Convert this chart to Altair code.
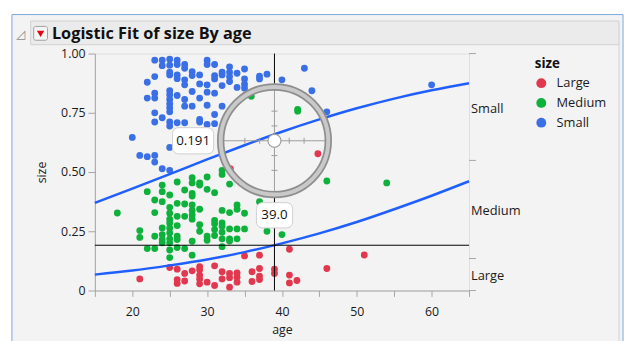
import altair as alt
import pandas as pd

# ---------------- data ----------------
size_levels = ["Large", "Medium", "Small"]
size_colors = ["#e2384f", "#0db13b", "#3a6fe6"]

large_age = [21, 25, 26, 26, 26, 27, 27, 28, 29, 29, 29, 29, 29, 30, 31, 31,
             32, 32, 33, 33, 33, 34, 34, 34, 35, 36, 36, 37, 37, 37, 37, 39,
             39, 41, 41, 41, 42, 46, 51, 44.8, 33.1]
large_val = [0.049, 0.097, 0.090, 0.046, 0.030, 0.072, 0.040, 0.083, 0.101,
             0.088, 0.065, 0.049, 0.028, 0.035, 0.104, 0.021, 0.079, 0.049,
             0.072, 0.054, 0.014, 0.074, 0.056, 0.035, 0.146, 0.079, 0.038,
             0.149, 0.093, 0.060, 0.046, 0.090, 0.072, 0.174, 0.065, 0.032,
             0.042, 0.093, 0.150, 0.577, 0.514]

medium_age = [18, 21, 21, 22, 22, 23, 23, 23, 23,
              24, 24, 24, 24, 24, 24, 24,
              25, 25, 25, 25, 25, 25, 25, 25, 25, 25, 25,
              26, 26, 26, 26, 26, 26, 26,
              27, 27, 27, 27,
              28, 28, 28, 28, 28, 28, 28, 28, 28, 28,
              29, 29, 29, 29, 29,
              30, 30, 30, 30,
              31, 31, 31, 31, 31,
              32, 32, 32, 32, 32, 32, 32, 32,
              33, 33, 33, 33, 33,
              34, 34, 34, 34,
              35, 35, 37, 38, 40, 46, 54, 35.9, 42.1, 42.1]
medium_val = [0.327, 0.253, 0.224, 0.417, 0.177, 0.382, 0.329, 0.229, 0.177,
              0.445, 0.417, 0.375, 0.264, 0.236, 0.215, 0.201,
              0.403, 0.351, 0.326, 0.301, 0.285, 0.264, 0.243, 0.218, 0.201, 0.171, 0.139,
              0.458, 0.368, 0.313, 0.274, 0.229, 0.215, 0.181,
              0.424, 0.365, 0.313, 0.177,
              0.476, 0.454, 0.410, 0.399, 0.361, 0.338, 0.319, 0.301, 0.208, 0.149,
              0.454, 0.445, 0.343, 0.278, 0.250,
              0.479, 0.427, 0.229, 0.212,
              0.413, 0.296, 0.282, 0.257, 0.232,
              0.507, 0.490, 0.338, 0.285, 0.271, 0.246, 0.218, 0.185,
              0.449, 0.329, 0.260, 0.218, 0.209,
              0.361, 0.343, 0.260, 0.218,
              0.326, 0.260, 0.375, 0.250, 0.236, 0.462, 0.454, 0.820, 0.764, 0.757]

small_age = [20, 21, 22, 22, 22,
             23, 23, 23, 23, 23, 23, 23, 23,
             24, 24, 24, 24,
             25, 25, 25, 25, 25, 25, 25, 25, 25, 25, 25, 25, 25, 25,
             26, 26, 26, 26, 26, 26,
             27, 27, 27, 27, 27, 27, 27,
             28, 28, 28, 28,
             29, 29, 29, 29, 29,
             30, 30, 30, 30, 30, 30,
             31, 31, 31, 31, 31, 31,
             32, 32, 32, 32,
             33, 33, 33, 33,
             34, 34, 35, 35, 35, 35, 37, 37, 38, 40, 43, 44, 46, 60]
small_val = [0.646, 0.570, 0.879, 0.812, 0.565,
             0.972, 0.903, 0.833, 0.812, 0.750, 0.711, 0.570, 0.542,
             0.972, 0.949, 0.729, 0.514,
             0.976, 0.951, 0.921, 0.910, 0.843, 0.826, 0.806, 0.788, 0.771, 0.754, 0.711, 0.694, 0.604, 0.507,
             0.972, 0.954, 0.910, 0.894, 0.823, 0.708,
             0.954, 0.938, 0.889, 0.868, 0.806, 0.778, 0.708,
             0.924, 0.907, 0.840, 0.778,
             0.910, 0.872, 0.812, 0.722, 0.711,
             0.972, 0.954, 0.868, 0.837, 0.782, 0.701,
             0.954, 0.907, 0.893, 0.833, 0.743, 0.704,
             0.921, 0.910, 0.865, 0.778,
             0.944, 0.921, 0.903, 0.882,
             0.917, 0.857, 0.935, 0.893, 0.871, 0.854, 0.905, 0.893, 0.913, 0.889, 0.938, 0.843, 0.754, 0.868]

# fitted cumulative probability curves, read at these ages
curve_age = [15, 20, 25, 30, 35, 40, 45, 50, 55, 60, 65]
p_large = [0.067, 0.084, 0.106, 0.131, 0.162, 0.199, 0.241, 0.289, 0.343, 0.400, 0.461]
p_large_medium = [0.370, 0.430, 0.491, 0.553, 0.613, 0.670, 0.722, 0.769, 0.810, 0.845, 0.875]

# right-hand axis: cumulative proportions and level labels
right_ticks = [0.0, 0.135, 0.549, 1.0]
right_label_val = [0.0675, 0.342, 0.775]
right_label_txt = ["Large", "Medium", "Small"]

# crosshair readout
cursor_age = [39.0]
cursor_val = [0.632]
readout_val = [0.191]

x_ticks = [15, 20, 25, 30, 35, 40, 45, 50, 55, 60, 65]
y_ticks = [0, 0.25, 0.5, 0.75, 1.0]

# ---------------- build ----------------
W, H = 379, 240
FONT = "Open Sans"
GRAY = "#a6a6a6"
INK = "#1a1a1a"

points = pd.concat([
    pd.DataFrame({"age": large_age, "val": large_val, "size": "Large"}),
    pd.DataFrame({"age": medium_age, "val": medium_val, "size": "Medium"}),
    pd.DataFrame({"age": small_age, "val": small_val, "size": "Small"}),
], ignore_index=True)

curves = pd.concat([
    pd.DataFrame({"age": curve_age, "val": p_large, "curve": "lower"}),
    pd.DataFrame({"age": curve_age, "val": p_large_medium, "curve": "upper"}),
], ignore_index=True)

xs = alt.Scale(domain=[15, 65], nice=False, zero=False)
ys = alt.Scale(domain=[0, 1], nice=False, zero=False)

x_axis = alt.Axis(values=x_ticks, title="age", grid=False, tickSize=6,
                  labelExpr="datum.value % 10 === 0 ? datum.label : ''",
                  labelPadding=9, titlePadding=6, labelFontSize=12.5, titleFontSize=12.5,
                  titleFontWeight="normal", domainColor=GRAY, tickColor=GRAY,
                  labelColor=INK, titleColor=INK, labelFont=FONT, titleFont=FONT)
y_axis = alt.Axis(values=y_ticks, title="size", grid=False, tickSize=7,
                  labelExpr="datum.value === 0 ? '0' : format(datum.value, '.2f')",
                  labelPadding=3, titlePadding=12, labelFontSize=12.5, titleFontSize=12.5,
                  titleFontWeight="normal", domainColor=GRAY, tickColor=GRAY,
                  labelColor=INK, titleColor=INK, labelFont=FONT, titleFont=FONT)


def XF(field):
    return alt.X(field, scale=xs, axis=x_axis)


def YF(field):
    return alt.Y(field, scale=ys, axis=y_axis)


X0 = XF("age:Q")
Y0 = YF("val:Q")

one = pd.DataFrame({"k": [0]})


def box(x1, x2, y1, y2, **kw):
    return alt.Chart(one).mark_rect(**kw).encode(
        x=alt.value(x1), x2=alt.value(x2), y=alt.value(y1), y2=alt.value(y2))


# frame decorations (window chrome)
deco = [
    box(-100, 700, -60, -39.5, fill="white"),
    box(-100, -84, -60, 400, fill="white"),
    box(535, 700, -60, 400, fill="white"),
    box(-84, 535, -39.5, 400, fillOpacity=0, stroke="#7ba7dd", strokeWidth=1),
    box(-65, 531, -33, -9, fill="#ebebeb", stroke="#d0d0d0", strokeWidth=1),
    alt.Chart(one).mark_rule(color="#d0d0d0").encode(
        x=alt.value(531), y=alt.value(-9), y2=alt.value(400)),
    box(-62, -48, -27.5, -13.5, fill="#f4f4f4", stroke="#a0a0a0", strokeWidth=1, cornerRadius=2),
    alt.Chart(one).mark_point(shape="triangle-down", filled=True, color="#e60012",
                              size=55, opacity=1).encode(x=alt.value(-55), y=alt.value(-20)),
    alt.Chart(one).mark_text(text="\u25FF", font="DejaVu Sans", fontSize=12, color="#8a8a8a",
                             align="center", baseline="middle").encode(
        x=alt.value(-75), y=alt.value(-20)),
    alt.Chart(one).mark_text(text="Logistic Fit of size By age", font=FONT, fontSize=16.5,
                             fontWeight="bold", align="left", baseline="alphabetic",
                             color="#111111").encode(x=alt.value(-43.5), y=alt.value(-14.5)),
]

pts_layer = alt.Chart(points).mark_circle(size=48, opacity=1).encode(
    x=X0, y=Y0,
    color=alt.Color("size:N", scale=alt.Scale(domain=size_levels, range=size_colors),
                    legend=alt.Legend(title="size", orient="none", legendX=445.7, legendY=4,
                                      titleFontSize=13.5, titleFontWeight="bold", titleFont=FONT,
                                      labelFont=FONT, labelFontSize=13, symbolSize=100,
                                      symbolType="circle", symbolStrokeWidth=0,
                                      rowPadding=6, titlePadding=6, labelOffset=9,
                                      padding=0, titleColor="#111111", labelColor=INK)),
)

curve_layer = alt.Chart(curves).mark_line(color="#1f5eff", strokeWidth=2.5,
                                          interpolate="monotone").encode(
    x=X0, y=Y0, detail="curve:N")

rt = pd.DataFrame({"val": right_ticks})
right_tick_layer = alt.Chart(rt).mark_rule(color=GRAY).encode(
    x=alt.value(W), x2=alt.value(W + 7), y=Y0)
rl = pd.DataFrame({"val": right_label_val, "label": right_label_txt})
right_label_layer = alt.Chart(rl).mark_text(align="left", baseline="middle", font=FONT,
                                            fontSize=13, color=INK, dy=2).encode(
    x=alt.value(W + 2), y=Y0, text="label:N")

cur = pd.DataFrame({"age": cursor_age, "val": cursor_val, "ro": readout_val,
                    "top": [1.0], "bottom": [0.0]})
RING = 58
RET = "#9c9c9c"
cross = [
    alt.Chart(cur).mark_rule(color="black", strokeWidth=1, y2Offset=-RING).encode(
        x=X0, y=YF("top:Q"), y2="val:Q"),
    alt.Chart(cur).mark_rule(color="black", strokeWidth=1, yOffset=RING).encode(
        x=X0, y=Y0, y2="bottom:Q"),
    alt.Chart(cur).mark_rule(color="black", strokeWidth=1).encode(
        x=alt.value(0), x2=alt.value(W), y=YF("ro:Q")),
    # reticle inside the magnifier
    alt.Chart(cur).mark_rule(color=RET, strokeWidth=1, xOffset=-52, x2Offset=52).encode(
        x=X0, x2="age:Q", y=Y0),
    alt.Chart(cur).mark_rule(color=RET, strokeWidth=1, yOffset=-52, y2Offset=52).encode(
        x=X0, y=Y0, y2="val:Q"),
]
for off in (-30, -15, 15, 30):
    cross.append(alt.Chart(cur).mark_rule(color=RET, strokeWidth=1, xOffset=off,
                                          yOffset=-3, y2Offset=3).encode(x=X0, y=Y0, y2="val:Q"))
    cross.append(alt.Chart(cur).mark_rule(color=RET, strokeWidth=1, yOffset=off,
                                          xOffset=-3, x2Offset=3).encode(x=X0, x2="age:Q", y=Y0))
cross += [
    alt.Chart(cur).mark_point(shape="circle", filled=True, fill="white", stroke=RET,
                              strokeWidth=1.2, size=175, opacity=1).encode(x=X0, y=Y0),
    alt.Chart(cur).mark_point(shape="circle", filled=False, stroke="#8e8e8e", strokeWidth=7.5,
                              size=(2 * (RING - 3.5)) ** 2, opacity=1).encode(x=X0, y=Y0),
    alt.Chart(cur).mark_point(shape="circle", filled=False, stroke="#c9c9c9", strokeWidth=4,
                              size=(2 * (RING - 3.5)) ** 2, opacity=1).encode(x=X0, y=Y0),
    # readout boxes
    alt.Chart(cur).mark_rect(fill="white", stroke="#cfcfcf", strokeWidth=1, cornerRadius=6,
                             xOffset=-103.3, x2Offset=-61.6, yOffset=-13.3, y2Offset=13.3).encode(
        x=X0, x2="age:Q", y=Y0, y2="val:Q"),
    alt.Chart(cur).mark_text(font=FONT, fontSize=13.5, color="#111111", baseline="middle",
                             xOffset=-82.4).encode(x=X0, y=Y0, text=alt.Text("ro:Q", format=".3f")),
    alt.Chart(cur).mark_rect(fill="white", stroke="#cfcfcf", strokeWidth=1, cornerRadius=6,
                             xOffset=-18.3, x2Offset=18.4, yOffset=62.7, y2Offset=88.3).encode(
        x=X0, x2="age:Q", y=Y0, y2="val:Q"),
    alt.Chart(cur).mark_text(font=FONT, fontSize=13.5, color="#111111", baseline="middle",
                             yOffset=75.5).encode(x=X0, y=Y0, text=alt.Text("age:Q", format=".1f")),
]

chart = alt.layer(
    *deco, pts_layer, curve_layer, right_tick_layer, right_label_layer, *cross
).properties(
    width=W, height=H,
    padding={"left": 88, "top": 44, "right": 158, "bottom": 49},
    autosize=alt.AutoSizeParams(type="none"),
    background="#f3f3f3",
).configure_view(fill="white", stroke=GRAY, strokeWidth=1).configure(font=FONT)

chart.save("out.html", embed_options={"renderer": "svg", "actions": False})
